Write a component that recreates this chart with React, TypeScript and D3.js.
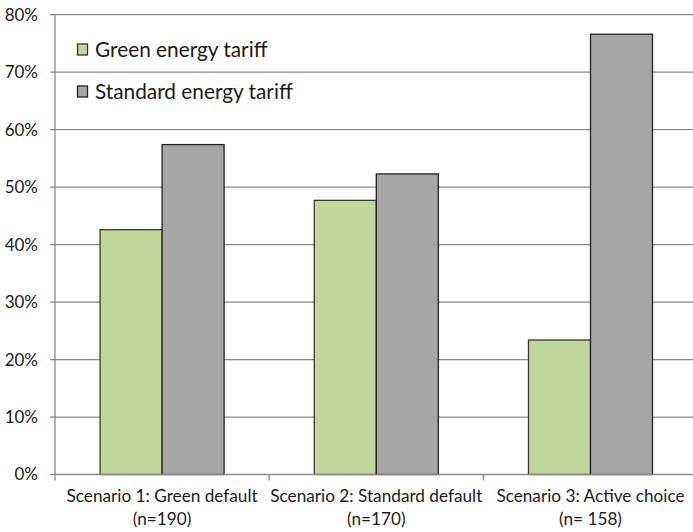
import React from "react";
import * as d3 from "d3";

const categories = ["Scenario 1: Green default", "Scenario 2: Standard default", "Scenario 3: Active choice"];
const sampleLabels = ["(n=190)", "(n=170)", "(n= 158)"];
const seriesNames = ["Green energy tariff", "Standard energy tariff"];
const greenValues = [42.6, 47.7, 23.4];
const standardValues = [57.4, 52.3, 76.6];
const yTicks = [0, 10, 20, 30, 40, 50, 60, 70, 80];

const W = 693;
const H = 532;
const FONT = "Lato, 'Open Sans', sans-serif";
const colors = ["#c3d69b", "#a6a6a6"];
const strokes = ["#3a3a2a", "#222222"];

export default function App() {
  const left = 55;
  const right = 697.6;
  const top = 14.7;
  const bottom = 474.5;
  const y = d3.scaleLinear().domain([0, 80]).range([bottom, top]);
  const x = d3.scaleBand<string>().domain(categories).range([left, right]).paddingInner(0).paddingOuter(0);
  const xs = d3.scaleBand<string>().domain(seriesNames).range([0, x.bandwidth()]).paddingInner(0).paddingOuter(0.727);
  const values = [greenValues, standardValues];

  return (
    <svg width={W} height={H} style={{ position: "absolute", left: 0, top: 0, background: "#fff" }} fontFamily={FONT}>
      {yTicks.map((t) => (
        <g key={t}>
          {t > 0 && <line x1={left} x2={W} y1={y(t)} y2={y(t)} stroke="#8a8a8a" strokeWidth={1.3} />}
          <line x1={left - 5} x2={left} y1={y(t)} y2={y(t)} stroke="#8a8a8a" strokeWidth={1.3} />
          <text x={38} y={y(t)} dy="0.35em" textAnchor="end" fontSize={17} fill="#1a1a1a">{t}%</text>
        </g>
      ))}
      <line x1={left} x2={left} y1={top} y2={bottom} stroke="#8a8a8a" strokeWidth={1.3} />
      {categories.map((c, ci) =>
        seriesNames.map((s, si) => {
          const v = values[si][ci];
          const bx = (x(c) as number) + (xs(s) as number);
          return (
            <rect key={c + s} x={bx} y={y(v)} width={xs.bandwidth()} height={bottom - y(v)}
              fill={colors[si]} stroke={strokes[si]} strokeWidth={1.3} />
          );
        })
      )}
      <line x1={left} x2={W} y1={bottom} y2={bottom} stroke="#8a8a8a" strokeWidth={1.3} />
      {[0, 1, 2, 3].map((i) => {
        const tx = left + i * x.step();
        return <line key={i} x1={tx} x2={tx} y1={bottom} y2={bottom + 6} stroke="#8a8a8a" strokeWidth={1.3} />;
      })}
      {categories.map((c, ci) => {
        const cx = (x(c) as number) + x.bandwidth() / 2;
        return (
          <g key={c}>
            <text x={cx} y={502} textAnchor="middle" fontSize={17.2} fill="#1a1a1a">{c}</text>
            <text x={cx} y={525} textAnchor="middle" fontSize={17.2} fill="#1a1a1a">{sampleLabels[ci]}</text>
          </g>
        );
      })}
      {seriesNames.map((s, si) => (
        <g key={s}>
          <rect x={77.5} y={44 + si * 42} width={10} height={11} fill={colors[si]} stroke={strokes[si]} strokeWidth={1.3} />
          <text x={95} y={56.5 + si * 42} fontSize={20.8} fill="#1a1a1a">{s}</text>
        </g>
      ))}
    </svg>
  );
}
